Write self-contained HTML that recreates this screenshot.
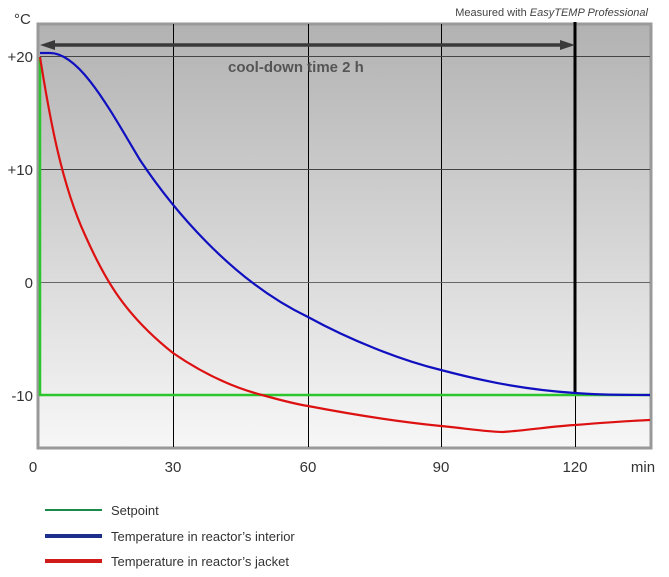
<!DOCTYPE html>
<html><head><meta charset="utf-8"><style>
html,body{margin:0;padding:0;background:#fff;}
svg{display:block;font-family:"Liberation Sans",sans-serif;}
</style></head><body>
<svg width="669" height="577" viewBox="0 0 669 577">
<defs>
<linearGradient id="bg" x1="0" y1="0" x2="0" y2="1">
<stop offset="0" stop-color="#b2b2b2"/><stop offset="1" stop-color="#f7f7f7"/>
</linearGradient>
</defs>
<rect x="38" y="24" width="613" height="424" fill="url(#bg)" stroke="#999" stroke-width="3"/>
<g stroke="#000" stroke-width="1">
<line x1="173.5" y1="24" x2="173.5" y2="447"/>
<line x1="308.5" y1="24" x2="308.5" y2="447"/>
<line x1="441.5" y1="24" x2="441.5" y2="447"/>
<line x1="575.5" y1="395" x2="575.5" y2="447"/>
<line x1="40" y1="169.5" x2="650" y2="169.5" stroke="#444"/>
<line x1="40" y1="282.5" x2="650" y2="282.5" stroke="#666"/>
<line x1="40" y1="56.5" x2="650" y2="56.5" stroke="#444"/>
</g>
<line x1="575" y1="22" x2="575" y2="395" stroke="#000" stroke-width="3"/>
<line x1="52" y1="45" x2="563" y2="45" stroke="#3a3a3a" stroke-width="3.5"/>
<polygon points="40,45 55,40 55,50" fill="#3a3a3a"/>
<polygon points="575,45 560,40 560,50" fill="#3a3a3a"/>
<text x="228" y="72" font-size="15" font-weight="bold" fill="#555">cool-down time 2 h</text>
<polyline fill="none" stroke="#2dc52d" stroke-width="2.5" points="40,57 40,395 650,395"/>
<path fill="none" stroke="#1010c0" stroke-width="2.2" d="M40,53 L50,53 C80,53 110,110 140,160 C170,205 230,280 308,317 C350,340 400,360 441,370 C490,383 530,390 575,393 C600,395 625,395 650,395"/>
<path fill="none" stroke="#dd1111" stroke-width="2.2" d="M40,57 C50,120 62,185 85,235 C105,280 125,315 173,353 C205,375 235,388 262,395 C280,400 295,404 308,406 C350,414 400,422 441,426 C470,429 490,432 503,432 C530,430 555,426 575,425 C600,423 625,421 650,420"/>
<g font-size="15" fill="#333">
<text x="14" y="24">°C</text>
<text x="33" y="62" text-anchor="end">+20</text>
<text x="33" y="175" text-anchor="end">+10</text>
<text x="33" y="288" text-anchor="end">0</text>
<text x="33" y="401" text-anchor="end">-10</text>
<text x="33" y="472" text-anchor="middle">0</text>
<text x="173" y="472" text-anchor="middle">30</text>
<text x="308" y="472" text-anchor="middle">60</text>
<text x="441" y="472" text-anchor="middle">90</text>
<text x="575" y="472" text-anchor="middle">120</text>
<text x="643" y="472" text-anchor="middle">min</text>
</g>
<text x="648" y="16" font-size="11" fill="#444" text-anchor="end">Measured with <tspan font-style="italic">EasyTEMP Professional</tspan></text>
<line x1="45" y1="510" x2="102" y2="510" stroke="#1a8a4a" stroke-width="2"/>
<line x1="45" y1="536" x2="102" y2="536" stroke="#1c2f8c" stroke-width="4"/>
<line x1="45" y1="561" x2="102" y2="561" stroke="#d11a1a" stroke-width="4"/>
<g font-size="13" fill="#333">
<text x="111" y="515">Setpoint</text>
<text x="111" y="541">Temperature in reactor’s interior</text>
<text x="111" y="566">Temperature in reactor’s jacket</text>
</g>
</svg>
</body></html>
